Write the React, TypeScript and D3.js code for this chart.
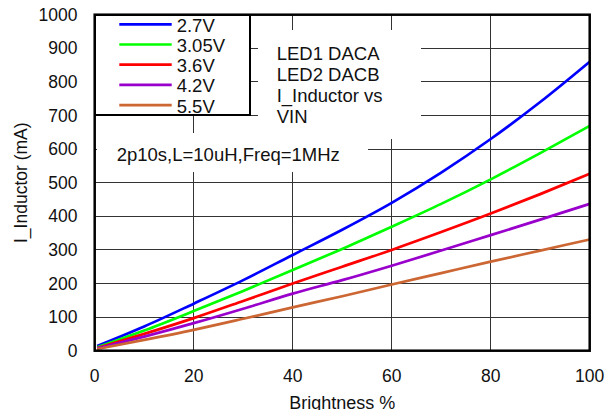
import React from "react";
import * as d3 from "d3";

const W = 606;
const H = 410;

const brightness = [0.5, 10, 20, 30, 40, 50, 60, 70, 80, 90, 100];
const seriesNames = ["2.7V", "3.05V", "3.6V", "4.2V", "5.5V"];
const seriesColors = ["#0000ff", "#00ff00", "#ff0000", "#9900cc", "#cc6633"];
const v27 = [14, 72, 140, 210, 285, 360, 440, 530, 630, 740, 860];
const v305 = [10, 60, 118, 178, 240, 303, 369, 437, 510, 588, 669];
const v36 = [8, 50, 97, 148, 200, 250, 300, 353, 408, 466, 527];
const v42 = [7, 42, 82, 125, 170, 210, 253, 298, 344, 390, 437];
const v55 = [5, 32, 62, 95, 129, 162, 197, 231, 265, 298, 331];
const seriesValues = [v27, v305, v36, v42, v55];

const xTicks = [0, 20, 40, 60, 80, 100];
const yTicks = [0, 100, 200, 300, 400, 500, 600, 700, 800, 900, 1000];
const annotLines = ["LED1 DACA", "LED2 DACB", "I_Inductor vs", "VIN"];
const noteText = "2p10s,L=10uH,Freq=1MHz";
const xTitle = "Brightness %";
const yTitle = "I_Inductor (mA)";

const FONT = "'Liberation Sans', Arial, sans-serif";

export default function App() {
  const left = 94.7, right = 589.7, top = 14.7, bottom = 350.7;
  const x = d3.scaleLinear().domain([0, 100]).range([left, right]);
  const y = d3.scaleLinear().domain([0, 1000]).range([bottom, top]);
  const line = d3
    .line<number>()
    .x((_, i) => x(brightness[i]))
    .y((d) => y(d))
    .curve(d3.curveMonotoneX);

  return (
    <svg
      width={W}
      height={H}
      style={{ position: "absolute", left: 0, top: 0, background: "#fff" }}
      fontFamily={FONT}
    >
      <rect x={0} y={0} width={W} height={H} fill="#fff" />
      {/* gridlines */}
      <g stroke="#333" strokeWidth={1} shapeRendering="crispEdges">
        {yTicks.slice(1, -1).map((t) => (
          <line key={"gy" + t} x1={left} x2={right} y1={y(t)} y2={y(t)} />
        ))}
        {xTicks.slice(1, -1).map((t) => (
          <line key={"gx" + t} x1={x(t)} x2={x(t)} y1={top} y2={bottom} />
        ))}
      </g>
      {/* series */}
      <g fill="none" strokeWidth={2.7} strokeLinejoin="round">
        {seriesValues.map((vals, i) => (
          <path key={seriesNames[i]} d={line(vals) || ""} stroke={seriesColors[i]} />
        ))}
      </g>
      {/* frame */}
      <rect x={left} y={top} width={right - left} height={bottom - top} fill="none" stroke="#000" strokeWidth={2.5} />
      {/* y tick labels */}
      <g fontSize={17.5} fill="#111">
        {yTicks.map((t) => (
          <text key={"yl" + t} x={77.5} y={y(t) + 6} textAnchor="end">
            {t}
          </text>
        ))}
        {xTicks.map((t) => (
          <text key={"xl" + t} x={x(t)} y={381.7} textAnchor="middle">
            {t}
          </text>
        ))}
      </g>
      {/* axis titles */}
      <text x={(left + right) / 2} y={409} textAnchor="middle" fontSize={18} fill="#111">
        {xTitle}
      </text>
      <text
        transform={`translate(26.5,${(top + bottom) / 2}) rotate(-90)`}
        textAnchor="middle"
        fontSize={17.5}
        fill="#111"
      >
        {yTitle}
      </text>
      {/* annotation boxes */}
      <rect x={258} y={30} width={163} height={109} fill="#fff" />
      <g fontSize={18.5} fill="#111">
        {annotLines.map((s, i) => (
          <text key={s} x={276.7} y={60 + 21 * i}>
            {s}
          </text>
        ))}
      </g>
      <rect x={97} y={133} width={271} height={39} fill="#fff" />
      <text x={116.7} y={161} fontSize={18.5} fill="#111">
        {noteText}
      </text>
      {/* legend */}
      <rect x={95} y={15} width={155} height={100} fill="#fff" stroke="#000" strokeWidth={2} />
      {seriesNames.map((n, i) => (
        <g key={"lg" + n}>
          <line x1={119.3} x2={171.7} y1={24.3 + 20.2 * i} y2={24.3 + 20.2 * i} stroke={seriesColors[i]} strokeWidth={2.7} />
          <text x={176.7} y={31.7 + 20.2 * i} fontSize={18.5} fill="#111">
            {n}
          </text>
        </g>
      ))}
    </svg>
  );
}
